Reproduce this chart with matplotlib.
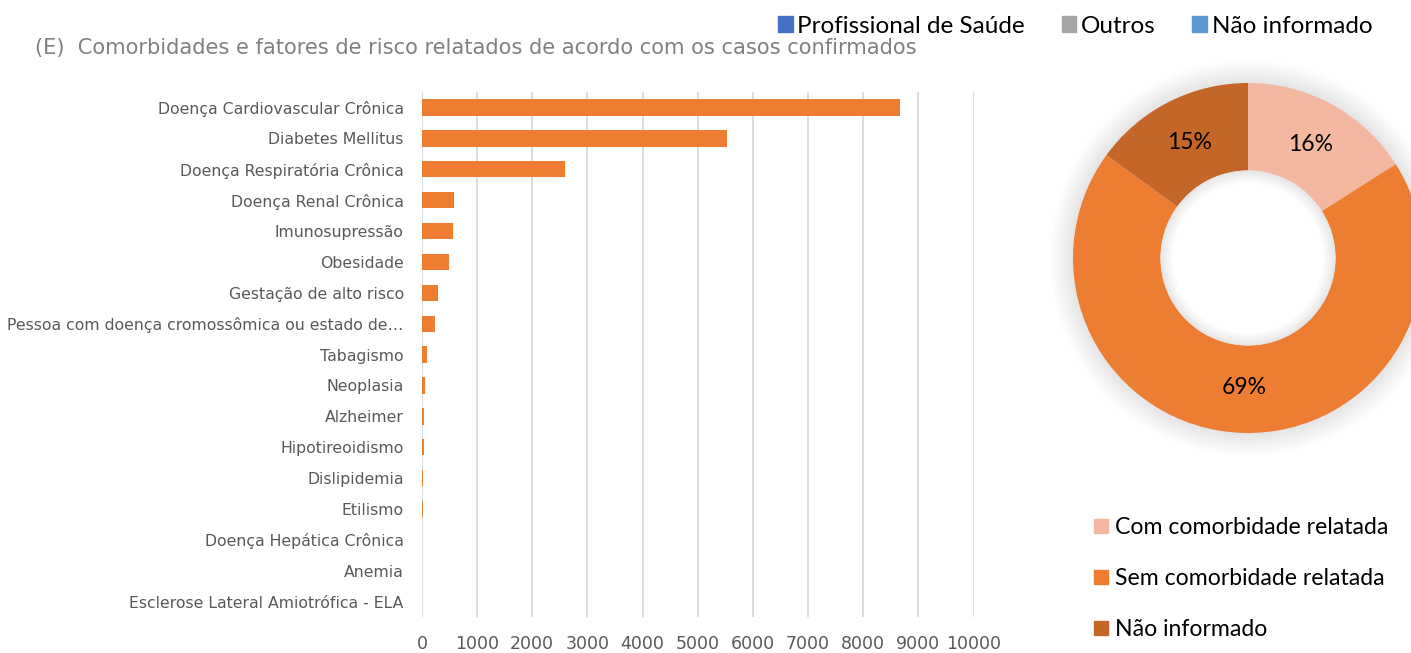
import matplotlib.pyplot as plt
from matplotlib.patches import Patch, Circle, Wedge
import numpy as np

# comorbidities (top to bottom as shown)
comorbidades = ['Doença Cardiovascular Crônica', 'Diabetes Mellitus', 'Doença Respiratória Crônica',
                'Doença Renal Crônica', 'Imunosupressão', 'Obesidade', 'Gestação de alto risco',
                'Pessoa com doença cromossômica ou estado de…', 'Tabagismo', 'Neoplasia', 'Alzheimer',
                'Hipotireoidismo', 'Dislipidemia', 'Etilismo', 'Doença Hepática Crônica', 'Anemia',
                'Esclerose Lateral Amiotrófica - ELA']
casos = [8660, 5530, 2600, 590, 560, 500, 295, 230, 90, 65, 30, 35, 20, 20, 5, 3, 2]

# donut
grupos = ['Com comorbidade relatada', 'Sem comorbidade relatada', 'Não informado']
percentuais = [16, 69, 15]
cores_donut = ['#F4B8A0', '#ED7D31', '#C46628']

# top legend (series not drawn in this panel)
serie_topo = ['Profissional de Saúde', 'Outros', 'Não informado']
cores_topo = ['#4472C4', '#A5A5A5', '#5B9BD5']

fig = plt.figure(figsize=(14.11, 6.53), dpi=100)

# ---- bar chart
ax = fig.add_axes([0.299, 0.055, 0.391, 0.804])
y = np.arange(len(comorbidades))
ax.barh(y, casos, height=0.53, color='#ED7D31', zorder=3)
ax.set_ylim(len(comorbidades) - 0.5, -0.5)
ax.set_xlim(0, 10000)
ax.set_xticks(np.arange(0, 10001, 1000))
ax.set_yticks(y)
ax.set_yticklabels(comorbidades, fontsize=11.3, color='#595959')
ax.tick_params(axis='x', labelsize=12.5, labelcolor='#595959', length=0, pad=13)
ax.tick_params(axis='y', length=0, pad=13)
ax.grid(axis='x', color='#D9D9D9', lw=1.3, zorder=0)
for s in ax.spines.values():
    s.set_visible(False)

fig.text(0.025, 0.926, '(E)  Comorbidades e fatores de risco relatados de acordo com os casos confirmados',
         fontsize=15.1, color='#808080', va='center', ha='left')

# ---- donut
ax2 = fig.add_axes([1038 / 1411, 185 / 653, 420 / 1411, 420 / 653])
ax2.set_aspect('equal')
ax2.axis('off')
# soft outer shadow
for r in np.linspace(1.0, 1.13, 14):
    ax2.add_patch(Circle((0, 0), r, color='#000000', alpha=0.008, lw=0, zorder=0))
wedges, texts, autotexts = ax2.pie(percentuais, colors=cores_donut, startangle=90, counterclock=False,
                                   radius=1.0, wedgeprops=dict(width=0.5, linewidth=0),
                                   autopct='%d%%', pctdistance=0.74,
                                   textprops=dict(fontsize=16.5, color='black', family='Lato'))
ax2.add_patch(Circle((0, 0), 0.5, color='white', lw=0, zorder=4))
# soft inner shadow in the hole
for w in np.linspace(0.01, 0.07, 8):
    ax2.add_patch(Wedge((0, 0), 0.5, 0, 360, width=w, color='#000000', alpha=0.012, lw=0, zorder=5))
ax2.set_xlim(-1.2, 1.2)
ax2.set_ylim(-1.2, 1.2)

fig.legend([Patch(color=c) for c in cores_donut], grupos, loc='upper left',
           bbox_to_anchor=(1085 / 1411, 1 - 508 / 653), frameon=False,
           prop=dict(family='Lato', size=16.6), handlelength=0.6, handleheight=0.6,
           handletextpad=0.3, labelspacing=1.3, borderaxespad=0)

fig.legend([Patch(color=c) for c in cores_topo], serie_topo, loc='upper right', ncol=3,
           bbox_to_anchor=(1382 / 1411, 1 - 6 / 653), frameon=False,
           prop=dict(family='Lato', size=17.5), handlelength=0.6, handleheight=0.6,
           handletextpad=0.2, columnspacing=1.5, borderaxespad=0)

fig.savefig('out.png', dpi=100)
